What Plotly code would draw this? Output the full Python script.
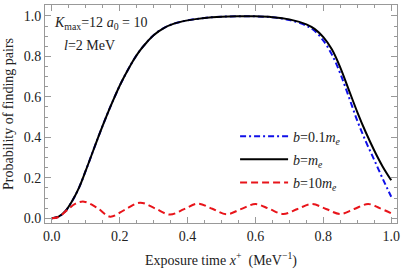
import plotly.graph_objects as go

# Black curve: b = m_e
x_black = [0, 0.02, 0.04, 0.06, 0.08, 0.1, 0.12, 0.14, 0.16, 0.18, 0.2, 0.22, 0.24, 0.26, 0.28,
           0.3, 0.33, 0.36, 0.4, 0.45, 0.5, 0.55, 0.6, 0.65, 0.7, 0.75, 0.775, 0.8, 0.825,
           0.85, 0.875, 0.9, 0.925, 0.95, 0.975, 1.0]
y_black = [0, 0.008, 0.035, 0.085, 0.15, 0.235, 0.325, 0.415, 0.5, 0.58, 0.655, 0.72, 0.78, 0.83,
           0.87, 0.905, 0.94, 0.962, 0.978, 0.99, 0.996, 0.998, 0.998, 0.994, 0.983, 0.958, 0.935,
           0.895, 0.835, 0.745, 0.635, 0.525, 0.425, 0.335, 0.255, 0.188]

# Blue curve: b = 0.1 m_e (same as black until ~0.7)
x_blue = [0, 0.02, 0.04, 0.06, 0.08, 0.1, 0.12, 0.14, 0.16, 0.18, 0.2, 0.22, 0.24, 0.26, 0.28,
          0.3, 0.33, 0.36, 0.4, 0.45, 0.5, 0.55, 0.6, 0.65, 0.7, 0.75, 0.775, 0.8, 0.825,
          0.85, 0.875, 0.9, 0.925, 0.95, 0.975, 1.0]
y_blue = [0, 0.008, 0.035, 0.085, 0.15, 0.235, 0.325, 0.415, 0.5, 0.58, 0.655, 0.72, 0.78, 0.83,
          0.87, 0.905, 0.94, 0.962, 0.978, 0.99, 0.996, 0.998, 0.998, 0.993, 0.98, 0.952, 0.925,
          0.878, 0.81, 0.715, 0.6, 0.482, 0.38, 0.288, 0.195, 0.106]

# Red curve: b = 10 m_e
x_red = [0, 0.02, 0.045, 0.07, 0.095, 0.135, 0.172, 0.215, 0.26, 0.305, 0.348, 0.39, 0.43,
         0.473, 0.515, 0.557, 0.6, 0.641, 0.682, 0.724, 0.766, 0.808, 0.85, 0.891, 0.932,
         0.966, 1.0]
y_red = [0, 0.006, 0.04, 0.072, 0.082, 0.05, 0.008, 0.042, 0.077, 0.048, 0.018, 0.045, 0.072,
         0.047, 0.02, 0.045, 0.07, 0.046, 0.021, 0.046, 0.07, 0.046, 0.021, 0.046, 0.07,
         0.05, 0.024]

x_ticks = [0.0, 0.2, 0.4, 0.6, 0.8, 1.0]
y_ticks = [0.0, 0.2, 0.4, 0.6, 0.8, 1.0]

FONT = "Times New Roman, Liberation Serif, Tinos, DejaVu Serif, Noto Serif, serif"
TXT = "#222222"
FRAME = "#999999"

fig = go.Figure()
fig.add_trace(go.Scatter(x=x_blue, y=y_blue, mode="lines", line_shape="spline",
                         line=dict(color="#1010e8", width=2, dash="6px,3px,2px,3px"),
                         legendgroup="a",
                         name="<i>b</i>=0.1<i>m</i><sub><i>e</i></sub>"))
fig.add_trace(go.Scatter(x=x_black, y=y_black, mode="lines", line_shape="spline",
                         line=dict(color="black", width=2),
                         legendgroup="b",
                         name="<i>b</i>=<i>m</i><sub><i>e</i></sub>"))
fig.add_trace(go.Scatter(x=x_red, y=y_red, mode="lines", line_shape="spline",
                         line=dict(color="#e8141a", width=2, dash="7px,4px"),
                         legendgroup="c",
                         name="<i>b</i>=10<i>m</i><sub><i>e</i></sub>"))

axis_common = dict(
    showgrid=False, zeroline=False, showline=True, linecolor=FRAME, linewidth=1,
    mirror="ticks", ticks="inside", ticklen=6, tickcolor=FRAME, tickwidth=1,
    tickfont=dict(family=FONT, size=14, color=TXT),
    minor=dict(ticks="inside", ticklen=3, tickcolor=FRAME, dtick=0.05),
    automargin=False,
)

fig.update_xaxes(range=[-0.02, 1.017], tickvals=x_ticks,
                 ticktext=[f"{v:.1f}" for v in x_ticks],
                 title=dict(text="Exposure time <i>x</i><sup>+</sup>  (MeV<sup>−1</sup>)",
                            font=dict(family=FONT, size=14, color=TXT), standoff=12),
                 **axis_common)
fig.update_yaxes(range=[-0.0235, 1.054], tickvals=y_ticks,
                 ticktext=[f"{v:.1f}" for v in y_ticks],
                 title=dict(text="Probability of finding pairs",
                            font=dict(family=FONT, size=14, color=TXT), standoff=6),
                 **axis_common)

fig.add_annotation(x=0.02, y=0.917, xref="paper", yref="paper", xanchor="left", yanchor="middle",
                   text="<i>K</i><sub>max</sub>=12 <i>a</i><sub>0</sub> = 10", showarrow=False,
                   font=dict(family=FONT, size=14, color=TXT))
fig.add_annotation(x=0.048, y=0.812, xref="paper", yref="paper", xanchor="left", yanchor="middle",
                   text="<i>l</i>=2 MeV", showarrow=False,
                   font=dict(family=FONT, size=14, color=TXT))

fig.update_layout(
    width=403, height=269,
    margin=dict(l=45, r=6, t=5, b=46),
    plot_bgcolor="white", paper_bgcolor="white",
    showlegend=True,
    legend=dict(x=0.54, y=0.47, xanchor="left", yanchor="top", bgcolor="rgba(0,0,0,0)",
                font=dict(family=FONT, size=14, color=TXT), itemwidth=48,
                tracegroupgap=2),
)

fig.write_html("out.html", config={"displayModeBar": False},
               post_script="document.body.style.margin='0';")
